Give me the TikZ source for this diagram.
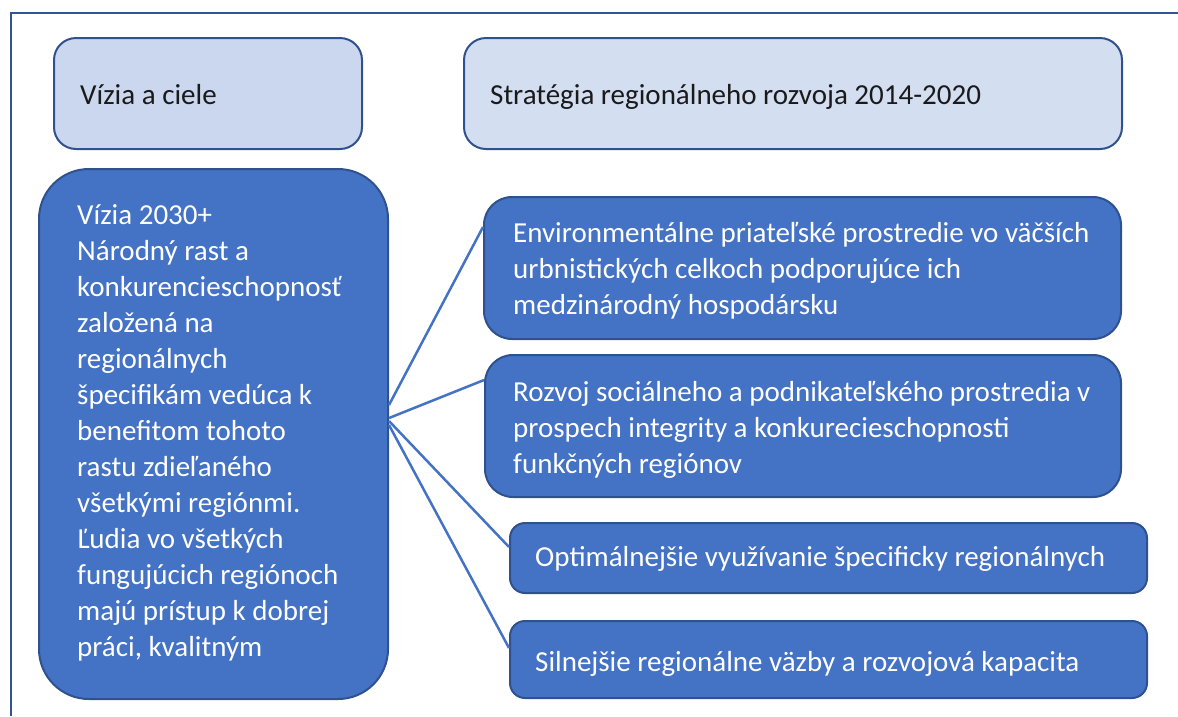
\documentclass[tikz,border=0pt]{standalone}
\usepackage{fontspec}
\setmainfont{Carlito}
\usetikzlibrary{calc}
\definecolor{acc}{HTML}{4472C4}
\definecolor{edgeblue}{HTML}{2F528F}
\definecolor{lightA}{HTML}{CBD7EE}
\definecolor{lightB}{HTML}{D3DEF1}
\definecolor{framecol}{HTML}{2F5597}
\definecolor{ink}{HTML}{1A1A1A}
\tikzset{
  box/.style={draw=edgeblue, line width=2pt, inner sep=0pt, anchor=north west},
  hdrbox/.style={box, rounded corners=22pt},
  bluebox/.style={box, fill=acc},
  hdrtxt/.style={anchor=base west, inner sep=0pt, text=ink, font=\fontsize{29}{36}\selectfont},
  bluetxt/.style={anchor=north west, inner sep=0pt, text=white, align=left, font=\fontsize{29}{36}\selectfont},
  link/.style={draw=acc, line width=2.5pt},
}
\begin{document}
\begin{tikzpicture}[x=1pt,y=-1pt]
\useasboundingbox (0,0) rectangle (1178,716);
% frame
\coordinate (fa) at (11,716);
\coordinate (fb) at (11,13);
\coordinate (fc) at (1178,13);
\draw[framecol, line width=2pt] (fa) -- (fb) -- (fc);
% header boxes
\node[hdrbox, fill=lightA, minimum width=308pt, minimum height=111pt] (viz) at (53,37) {};
\node[hdrbox, fill=lightB, minimum width=658pt, minimum height=111pt] (str) at (463,37) {};
\node[hdrtxt] (viztxt) at (80,104) {Vízia a ciele};
\node[hdrtxt] (strtxt) at (490,104) {Stratégia regionálneho rozvoja 2014-2020};
% big vision box
\node[bluebox, rounded corners=50pt, minimum width=349pt, minimum height=530pt] (vis) at (38,168) {};
\node[bluetxt] (vistxt) at (77,204) {Vízia 2030+\\Národný rast a\\konkurencieschopnosť\\založená na\\regionálnych\\špecifikám vedúca k\\benefitom tohoto\\rastu zdieľaného\\všetkými regiónmi.\\Ľudia vo všetkých\\fungujúcich regiónoch\\majú prístup k dobrej\\práci, kvalitným};
% goal boxes
\node[bluebox, rounded corners=28pt, minimum width=637pt, minimum height=142pt] (env) at (483,196) {};
\node[bluebox, rounded corners=28pt, minimum width=636pt, minimum height=142pt] (roz) at (484,354) {};
\node[bluebox, rounded corners=15pt, minimum width=637pt, minimum height=70pt] (opt) at (509,522) {};
\node[bluebox, rounded corners=15pt, minimum width=637pt, minimum height=77pt] (sil) at (509,620) {};
\node[bluetxt] (envtxt) at (513,222) {Environmentálne priateľské prostredie vo väčších\\urbnistických celkoch podporujúce ich\\medzinárodný hospodársku};
\node[bluetxt] (roztxt) at (513,381) {Rozvoj sociálneho a podnikateľského prostredia v\\prospech integrity a konkurecieschopnosti\\funkčných regiónov};
\node[bluetxt, anchor=base west] (opttxt) at (535,566) {Optimálnejšie využívanie špecificky regionálnych};
\node[bluetxt, anchor=base west] (siltxt) at (535,671) {Silnejšie regionálne väzby a rozvojová kapacita};
% connectors
\draw[link] ($(vis.east)+(0,-29)$) -- ($(env.north west)+(0,31)$);
\draw[link] ($(vis.east)+(0,-16)$) -- ($(roz.north west)+(0,26)$);
\draw[link] ($(vis.east)+(0,-13)$) -- ($(opt.north west)+(0,25)$);
\draw[link] ($(vis.east)+(0,-9)$) -- ($(sil.north west)+(0,28)$);
\end{tikzpicture}
\end{document}
